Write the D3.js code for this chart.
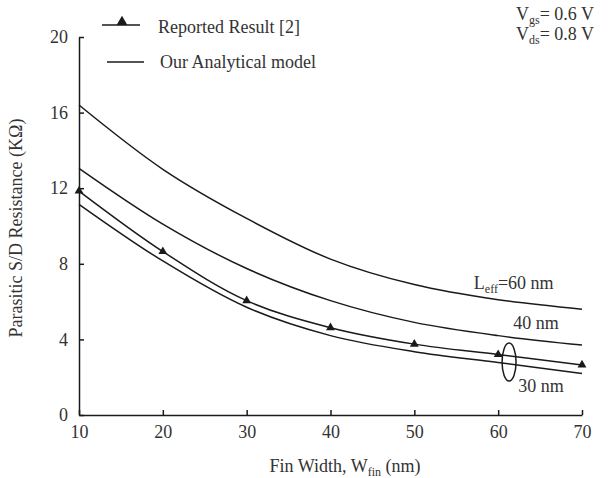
<!DOCTYPE html>
<html>
<head>
<meta charset="utf-8">
<script src="https://cdn.jsdelivr.net/npm/d3@7"></script>
<style>
  html, body { margin: 0; padding: 0; background: #fff; }
  svg { display: block; }
  text { font-family: "Liberation Serif", "Times New Roman", Times, "DejaVu Serif", serif; fill: #333; }
</style>
</head>
<body>
<svg id="chart" width="608" height="478"></svg>
<script>
// ---- data ----
const finWidths = [10, 20, 30, 40, 50, 60, 70];
const reported  = [11.85, 8.65, 6.05, 4.62, 3.75, 3.2, 2.65];
const model30   = [11.15, 8.15, 5.7, 4.2, 3.35, 2.78, 2.2];
const model40   = [13.05, 10.1, 7.75, 6.05, 4.9, 4.2, 3.7];
const model60   = [16.4, 13.0, 10.4, 8.25, 6.9, 6.1, 5.6];
const xTicks = [10, 20, 30, 40, 50, 60, 70];
const yTicks = [0, 4, 8, 12, 16, 20];

const FONT = '"Liberation Serif", "Times New Roman", Times, "DejaVu Serif", serif';
const svg = d3.select("#chart");
const x = d3.scaleLinear().domain([10, 70]).range([79, 582]);
const y = d3.scaleLinear().domain([0, 20]).range([415, 37]);

const ink = "#1a1a1a";

// axes
const xAxis = d3.axisBottom(x).tickValues(xTicks).tickSizeInner(-5).tickSizeOuter(0).tickPadding(10);
const yAxis = d3.axisLeft(y).tickValues(yTicks).tickSizeInner(-5).tickSizeOuter(0).tickPadding(11);

const gx = svg.append("g").attr("transform", `translate(0,${y(0)})`).call(xAxis);
const gy = svg.append("g").attr("transform", `translate(${x(10)},0)`).call(yAxis);
[gx, gy].forEach(g => {
  g.attr("font-family", FONT);
  g.selectAll("path.domain").attr("stroke", ink).attr("stroke-width", 1.5);
  g.selectAll(".tick line").attr("stroke", ink).attr("stroke-width", 1.5);
  g.selectAll(".tick text").style("font-family", FONT)
    .style("font-size", "18px").attr("fill", "#333");
});

// curves
const line = d3.line()
  .x((d, i) => x(finWidths[i]))
  .y(d => y(d))
  .curve(d3.curveCatmullRom.alpha(0.5));

[model60, model40, model30, reported].forEach(s => {
  svg.append("path").attr("d", line(s))
    .attr("fill", "none").attr("stroke", ink).attr("stroke-width", 1.5);
});

// triangles
const tri = d3.symbol().type(d3.symbolTriangle).size(34);
svg.append("g").selectAll("path").data(reported).join("path")
  .attr("d", tri)
  .attr("transform", (d, i) => `translate(${x(finWidths[i])},${y(d)})`)
  .attr("fill", ink);

// ellipse around 30 nm pair
svg.append("ellipse")
  .attr("cx", x(61.3)).attr("cy", y(2.8))
  .attr("rx", 7).attr("ry", 19)
  .attr("fill", "none").attr("stroke", ink).attr("stroke-width", 1.5);

// curve labels
const lab1 = svg.append("text").attr("x", x(57.1)).attr("y", y(6.67)).style("font-size", "18px");
lab1.append("tspan").text("L");
lab1.append("tspan").text("eff").style("font-size", "12px").attr("dy", 4);
lab1.append("tspan").text("=60 nm").attr("dy", -4);

svg.append("text").attr("x", x(61.8)).attr("y", y(4.55)).style("font-size", "18px").text("40 nm");
svg.append("text").attr("x", x(62.4)).attr("y", y(1.22)).style("font-size", "18px").text("30 nm");

// legend
svg.append("line").attr("x1", 102).attr("x2", 140).attr("y1", 25).attr("y2", 25)
  .attr("stroke", ink).attr("stroke-width", 1.5);
svg.append("path").attr("d", d3.symbol().type(d3.symbolTriangle).size(50))
  .attr("transform", "translate(122,22)").attr("fill", ink);
svg.append("text").attr("x", 158).attr("y", 33).style("font-size", "18px").text("Reported Result [2]");

svg.append("line").attr("x1", 107).attr("x2", 144).attr("y1", 62).attr("y2", 62)
  .attr("stroke", ink).attr("stroke-width", 1.5);
svg.append("text").attr("x", 160).attr("y", 68).style("font-size", "18px").text("Our Analytical model");

// bias conditions
function vLabel(yPos, sub, val) {
  const t = svg.append("text").attr("x", 516).attr("y", yPos).style("font-size", "18px");
  t.append("tspan").text("V");
  t.append("tspan").text(sub).style("font-size", "12px").attr("dy", 4);
  t.append("tspan").text("= " + val + " V").attr("dy", -4);
}
vLabel(20, "gs", "0.6");
vLabel(40, "ds", "0.8");

// axis titles
const xt = svg.append("text").attr("x", 345).attr("y", 472).attr("text-anchor", "middle").style("font-size", "18px");
xt.append("tspan").text("Fin Width, W");
xt.append("tspan").text("fin").style("font-size", "12px").attr("dy", 4);
xt.append("tspan").text(" (nm)").attr("dy", -4);

svg.append("text")
  .attr("transform", "translate(16,228) rotate(-90)")
  .attr("text-anchor", "middle").attr("dy", "0.35em")
  .style("font-size", "18px")
  .text("Parasitic S/D Resistance (KΩ)");
</script>
</body>
</html>
